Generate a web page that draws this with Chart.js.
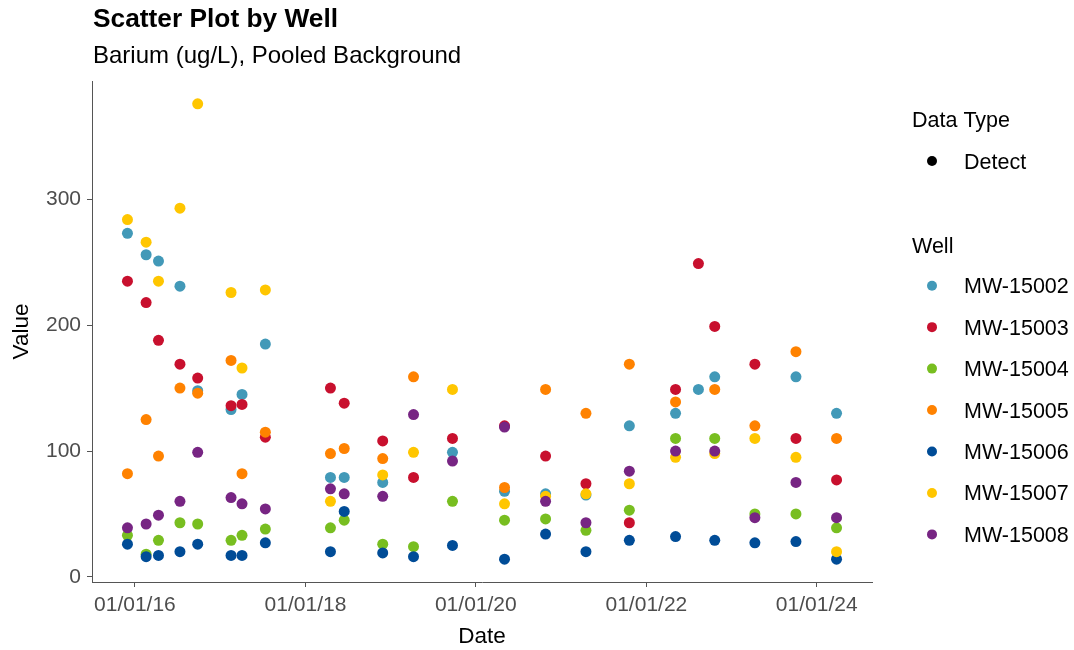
<!DOCTYPE html>
<html><head><meta charset="utf-8">
<script src="https://cdn.jsdelivr.net/npm/chart.js@4"></script>
<style>html,body{margin:0;padding:0;background:#fff}#wrap{width:1074px;height:650px;position:relative}</style>
</head><body><div id="wrap"><canvas id="c" width="1074" height="650"></canvas></div>
<script>
const sampleDates = ['2015-11-30','2016-02-18','2016-04-11','2016-07-12','2016-09-26','2017-02-16','2017-04-04','2017-07-13',
  '2018-04-18','2018-06-16','2018-11-28','2019-04-09','2019-09-23','2020-05-03','2020-10-26','2021-04-17','2021-10-20',
  '2022-05-06','2022-08-12','2022-10-21','2023-04-11','2023-10-04','2024-03-26'];
const wells = ['MW-15002','MW-15003','MW-15004','MW-15005','MW-15006','MW-15007','MW-15008'];
const wellColors = ['#4299B8','#C8102E','#78BE20','#FF8200','#004C97','#FFC600','#772583'];
const mw15002 = [273,256,251,231,148,133,145,185, 79,79,75,null,99, 68,66,65,120, 130,149,159,null,159,130];
const mw15003 = [235,218,188,169,158,136,137,111, 150,138,108,79,110, 120,96,74,43, 149,249,199,169,110,77];
const mw15004 = [33,18,29,43,42,29,33,38, 39,45,26,24,60, 45,46,37,53, 110,null,110,50,50,39];
const mw15005 = [82,125,96,150,146,172,82,115, 98,102,94,159,null, 71,149,130,169, 139,null,149,120,179,110];
const mw15006 = [26,16,17,20,26,17,17,27, 20,52,19,16,25, 14,34,20,29, 32,null,29,27,28,14];
const mw15007 = [284,266,235,293,376,226,166,228, 60,null,81,99,149, 58,64,66,74, 95,null,98,110,95,20];
const mw15008 = [39,42,49,60,99,63,58,54, 70,66,64,129,92, 119,60,43,84, 100,null,100,47,75,47];
const wellValues = [mw15002,mw15003,mw15004,mw15005,mw15006,mw15007,mw15008];
const yTicks = [0,100,200,300];
const xTickDates = ['2016-01-01','2018-01-01','2020-01-01','2022-01-01','2024-01-01'];
const xTickLabels = ['01/01/16','01/01/18','01/01/20','01/01/22','01/01/24'];
const dataTypes = ['Detect'];
const titleText = 'Scatter Plot by Well';
const subtitleText = 'Barium (ug/L), Pooled Background';
const xTitle = 'Date', yTitle = 'Value';
const legendTitle1 = 'Data Type', legendTitle2 = 'Well';

const FONT = '"Liberation Sans", Arial, sans-serif';
const times = sampleDates.map(d => Date.parse(d));
const tMin = Math.min(...times), tMax = Math.max(...times);
const tPad = (tMax - tMin) * 0.05;
const allVals = wellValues.flat().filter(v => v !== null);
const vMin = Math.min(...allVals), vMax = Math.max(...allVals);
const vPad = (vMax - vMin) * 0.05;

const datasets = wells.map((w, i) => ({
  label: w,
  data: wellValues[i].map((v, j) => v === null ? null : {x: times[j], y: v}).filter(p => p),
  backgroundColor: wellColors[i],
  borderWidth: 0,
  pointRadius: 5.5,
  pointHoverRadius: 5.5,
  order: wells.length - i
}));

const overlay = {
  id: 'overlay',
  afterDraw(chart) {
    const ctx = chart.ctx;
    ctx.save();
    ctx.textBaseline = 'alphabetic';
    ctx.textAlign = 'left';
    ctx.fillStyle = '#000';
    ctx.font = 'bold 26.3px ' + FONT;
    ctx.fillText(titleText, 93, 26.5);
    ctx.font = '24px ' + FONT;
    ctx.fillText(subtitleText, 93, 63);
    // legend
    ctx.font = '21.5px ' + FONT;
    ctx.fillText(legendTitle1, 912, 127);
    dataTypes.forEach((t, k) => {
      const y = 161 + k * 41.4;
      ctx.fillStyle = '#000';
      ctx.beginPath(); ctx.arc(932, y, 5, 0, Math.PI * 2); ctx.fill();
      ctx.fillText(t, 964, y + 7.5);
    });
    ctx.fillText(legendTitle2, 912, 253);
    wells.forEach((w, k) => {
      const y = 285.7 + k * 41.45;
      ctx.fillStyle = wellColors[k];
      ctx.beginPath(); ctx.arc(932, y, 5, 0, Math.PI * 2); ctx.fill();
      ctx.fillStyle = '#000';
      ctx.fillText(w, 964, y + 7.5);
    });
    ctx.restore();
  }
};

new Chart(document.getElementById('c'), {
  type: 'scatter',
  data: {datasets},
  options: {
    responsive: false,
    animation: false,
    devicePixelRatio: 1,
    layout: {padding: {left: 0, right: 202, top: 81, bottom: 0}},
    plugins: {legend: {display: false}, tooltip: {enabled: false}, title: {display: false}},
    scales: {
      x: {
        type: 'linear',
        min: tMin - tPad, max: tMax + tPad,
        afterBuildTicks: s => { s.ticks = xTickDates.map(d => ({value: Date.parse(d)})); },
        afterFit: s => { s.height = 68; },
        grid: {display: true, drawOnChartArea: false, drawTicks: true, tickLength: 5, color: '#555', lineWidth: 1},
        border: {display: true, color: '#555', width: 1},
        ticks: {color: '#4D4D4D', font: {family: FONT, size: 21}, padding: 6, maxRotation: 0,
          callback: (v, i) => xTickLabels[i]},
        title: {display: true, text: xTitle, color: '#000', font: {family: FONT, size: 22.5}, padding: {top: 0, bottom: 0}}
      },
      y: {
        type: 'linear',
        min: vMin - vPad, max: vMax + vPad,
        afterBuildTicks: s => { s.ticks = yTicks.map(v => ({value: v})); },
        afterFit: s => { s.width = 92; },
        grid: {display: true, drawOnChartArea: false, drawTicks: true, tickLength: 5, color: '#555', lineWidth: 1},
        border: {display: true, color: '#555', width: 1},
        ticks: {color: '#4D4D4D', font: {family: FONT, size: 21}, padding: 6, callback: v => String(v)},
        title: {display: true, text: yTitle, color: '#000', font: {family: FONT, size: 22.5}, padding: {top: 8, bottom: 0}}
      }
    }
  },
  plugins: [overlay]
});
</script></body></html>
